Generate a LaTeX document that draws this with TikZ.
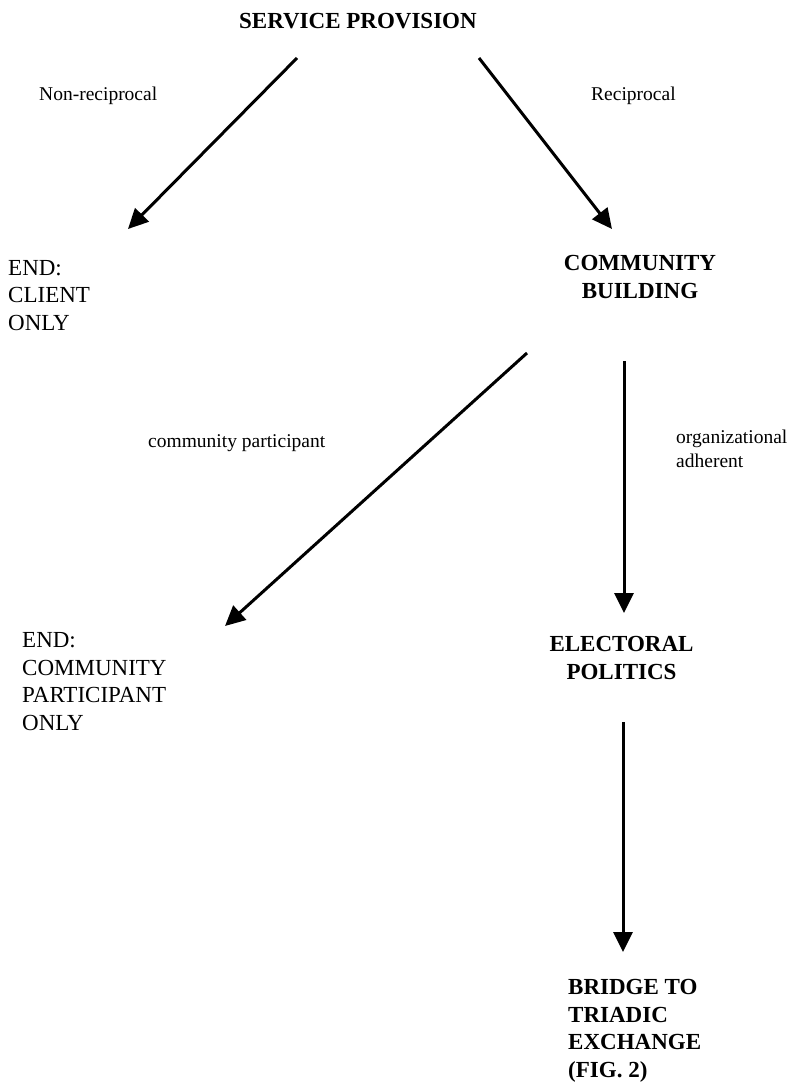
\documentclass[tikz,border=0pt]{standalone}
\usepackage{fontspec}
\setmainfont{Liberation Serif}
\usetikzlibrary{arrows.meta}
\tikzset{
  big/.style={font=\fontsize{23}{27.4}\selectfont, inner sep=0pt, anchor=base west, align=left},
  bigbold/.style={font=\fontsize{23}{27.5}\selectfont\bfseries, inner sep=0pt, anchor=base, align=center},
  lbl/.style={font=\fontsize{19.5}{24}\selectfont, inner sep=0pt, anchor=base west, align=left},
  arr/.style={line width=3pt, -{Triangle[length=20pt,width=19pt]}}
}
\begin{document}
\begin{tikzpicture}[x=1pt,y=-1pt]
\useasboundingbox (0,0) rectangle (790,1084);
% multi-line nodes: base anchor = baseline of the last line
\node[bigbold, anchor=base west] (sp) at (239,28) {SERVICE PROVISION};
\node[lbl] (nr) at (39,100) {Non-reciprocal};
\node[lbl] (rc) at (591,100) {Reciprocal};
\node[big] (client) at (8,330) {END:\\CLIENT\\ONLY};
\node[bigbold] (cb) at (640,298) {COMMUNITY\\BUILDING};
\node[lbl] (cp) at (148,447) {community participant};
\node[lbl] (oa) at (676,467) {organizational\\adherent};
\node[big] (endcp) at (22,730) {END:\\COMMUNITY\\PARTICIPANT\\ONLY};
\node[bigbold] (ep) at (621.5,679) {ELECTORAL\\POLITICS};
\node[bigbold, anchor=base west, align=left] (br) at (568,1077) {BRIDGE TO\\TRIADIC\\EXCHANGE\\(FIG. 2)};

\coordinate (s1) at (297,58);  \coordinate (t1) at (128,229);
\coordinate (s2) at (479,58);  \coordinate (t2) at (612,229);
\coordinate (s3) at (527,353); \coordinate (t3) at (225,626);
\coordinate (s4) at (624,361); \coordinate (t4) at (624,613);
\coordinate (s5) at (623,722); \coordinate (t5) at (623,952);
\draw[arr] (s1) -- (t1);
\draw[arr] (s2) -- (t2);
\draw[arr] (s3) -- (t3);
\draw[arr] (s4) -- (t4);
\draw[arr] (s5) -- (t5);
\end{tikzpicture}
\end{document}
